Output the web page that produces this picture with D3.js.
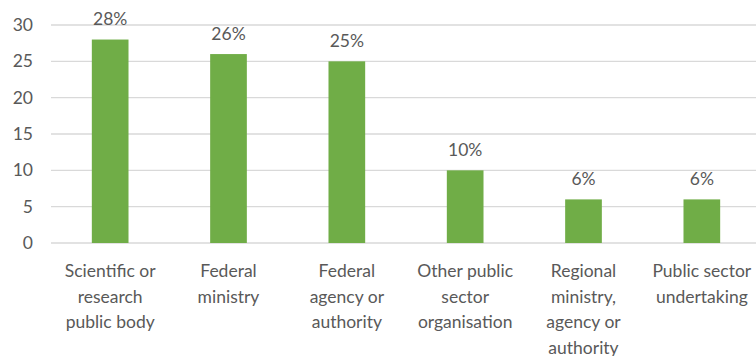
<!DOCTYPE html>
<html>
<head>
<meta charset="utf-8">
<script src="https://cdn.jsdelivr.net/npm/d3@7"></script>
<style>
  html, body { margin: 0; padding: 0; background: #fff; }
  svg { display: block; font-family: Lato, "Open Sans", sans-serif; }
</style>
</head>
<body>
<svg id="chart" width="756" height="356"></svg>
<script>
// Share of respondents by type of public body (%)
const categories = [
  ["Scientific or", "research", "public body"],
  ["Federal", "ministry"],
  ["Federal", "agency or", "authority"],
  ["Other public", "sector", "organisation"],
  ["Regional", "ministry,", "agency or", "authority"],
  ["Public sector", "undertaking"]
];
const values = [28, 26, 25, 10, 6, 6];
const valueLabels = ["28%", "26%", "25%", "10%", "6%", "6%"];
const yTicks = [0, 5, 10, 15, 20, 25, 30];

const svg = d3.select("#chart");
const textColor = "#595959";
const fontSize = "17.5px";

const x = d3.scaleBand()
  .domain(d3.range(categories.length))
  .range([51, 761])
  .paddingInner(0.69)
  .paddingOuter(0.345);

const y = d3.scaleLinear().domain([0, 30]).range([243, 25]);

// horizontal gridlines
svg.append("g")
  .selectAll("line")
  .data(yTicks)
  .join("line")
  .attr("x1", 51).attr("x2", 761)
  .attr("y1", d => y(d)).attr("y2", d => y(d))
  .attr("stroke", "#d9d9d9")
  .attr("stroke-width", 1.3);

// y axis labels
const yAxis = d3.axisLeft(y).tickValues(yTicks).tickSize(0).tickPadding(0);
const gy = svg.append("g").attr("transform", "translate(33,0)").call(yAxis);
gy.select(".domain").remove();
gy.selectAll("text")
  .attr("fill", textColor)
  .style("font-size", fontSize)
  .style("font-family", "Lato, 'Open Sans', sans-serif");

// bars
svg.append("g")
  .selectAll("rect")
  .data(values)
  .join("rect")
  .attr("x", (d, i) => x(i))
  .attr("width", x.bandwidth())
  .attr("y", d => y(d))
  .attr("height", d => y(0) - y(d))
  .attr("fill", "#70ad47");

// value labels
svg.append("g")
  .selectAll("text")
  .data(values)
  .join("text")
  .attr("x", (d, i) => x(i) + x.bandwidth() / 2)
  .attr("y", d => y(d) - 14.5)
  .attr("text-anchor", "middle")
  .attr("fill", textColor)
  .style("font-size", fontSize)
  .text((d, i) => valueLabels[i]);

// category labels (multi-line)
const cat = svg.append("g")
  .selectAll("text")
  .data(categories)
  .join("text")
  .attr("x", (d, i) => x(i) + x.bandwidth() / 2)
  .attr("y", 277)
  .attr("text-anchor", "middle")
  .attr("fill", textColor)
  .style("font-size", fontSize);
cat.selectAll("tspan")
  .data(d => d)
  .join("tspan")
  .attr("x", function () { return d3.select(this.parentNode).attr("x"); })
  .attr("dy", (d, i) => i === 0 ? 0 : 25.5)
  .text(d => d);
</script>
</body>
</html>
